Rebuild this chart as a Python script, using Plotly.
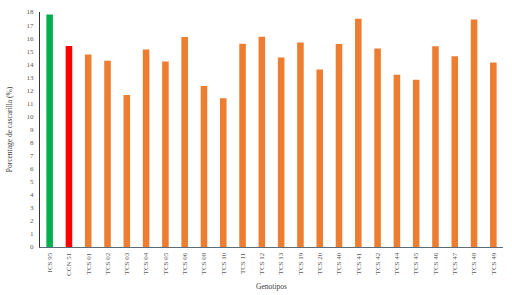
import plotly.graph_objects as go

genotipos = ["ICS 95", "CCN 51", "TCS 01", "TCS 02", "TCS 03", "TCS 04", "TCS 05", "TCS 06",
             "TCS 08", "TCS 10", "TCS 11", "TCS 12", "TCS 13", "TCS 19", "TCS 20", "TCS 40",
             "TCS 41", "TCS 42", "TCS 44", "TCS 45", "TCS 46", "TCS 47", "TCS 48", "TCS 49"]
cascarilla = [17.8, 15.4, 14.75, 14.27, 11.64, 15.13, 14.2, 16.08,
              12.33, 11.39, 15.57, 16.1, 14.52, 15.67, 13.6, 15.54,
              17.48, 15.21, 13.2, 12.81, 15.37, 14.62, 17.43, 14.14]
colores = ["#00B050", "#FF0000"] + ["#ED7D31"] * 22

font_fam = "Liberation Serif, DejaVu Serif, serif"

fig = go.Figure(go.Bar(x=genotipos, y=cascarilla, marker_color=colores, marker_line_width=0))

fig.update_layout(
    width=512, height=295,
    margin=dict(l=40, r=9, t=12, b=48, autoexpand=False),
    paper_bgcolor="white", plot_bgcolor="white",
    bargap=0.66,
    showlegend=False,
    font=dict(family=font_fam, color="#595959", size=7),
    xaxis=dict(
        automargin=False,
        tickangle=-90, tickfont=dict(size=7, family=font_fam, color="#595959"),
        showline=True, linecolor="#5a6b7b", linewidth=1, ticks="",
        ticklabelstandoff=2,
        title=dict(text="Genotipos", font=dict(size=7.5, family=font_fam, color="#404040"), standoff=8),
    ),
    yaxis=dict(
        automargin=False,
        range=[0, 18], dtick=1, showgrid=False, zeroline=False,
        showline=True, linecolor="#333333", linewidth=1.2, ticks="",
        ticklabelstandoff=4,
        tickfont=dict(size=7, family=font_fam, color="#595959"),
        title=dict(text="Porcentage de cascarilla (%)", font=dict(size=7.5, family=font_fam, color="#404040"), standoff=12),
    ),
)

fig.write_html("out.html", config={"displayModeBar": False},
               post_script="document.body.style.margin='0';document.body.style.padding='0';")
